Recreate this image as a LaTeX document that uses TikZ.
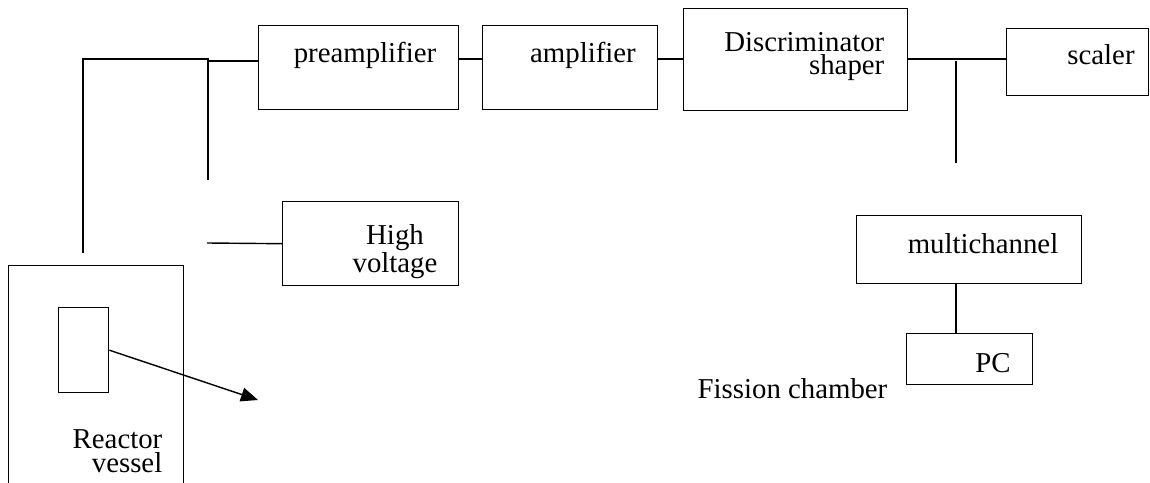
\documentclass[tikz,border=0pt]{standalone}
\usepackage{fontspec}
\setmainfont{Liberation Serif}
\usetikzlibrary{arrows.meta,positioning}

\begin{document}
\begin{tikzpicture}[x=0.02cm,y=-0.02cm,line width=0.8pt,
  every node/.style={font=\fontsize{16.4}{13.5}\selectfont}]
  \tikzstyle{block}=[draw,anchor=north west,inner sep=0pt]
  \tikzstyle{txt}=[anchor=base,inner sep=0pt]
  \useasboundingbox (0,0) rectangle (1150,483);

  % boxes
  \node[block,minimum width=4cm,minimum height=1.68cm]    (pre)     at (258,25)  {};
  \node[block,minimum width=3.5cm,minimum height=1.68cm]  (amp)     at (482,25)  {};
  \node[block,minimum width=4.48cm,minimum height=2.04cm] (disc)    at (683,8)   {};
  \node[block,minimum width=2.84cm,minimum height=1.34cm] (scaler)  at (1006,28) {};
  \node[block,minimum width=3.52cm,minimum height=1.68cm] (hv)      at (282,201) {};
  \node[block,minimum width=4.5cm,minimum height=1.36cm]  (multi)   at (856,215) {};
  \node[block,minimum width=2.52cm,minimum height=1.02cm] (pc)      at (906,333) {};
  \node[block,minimum width=3.5cm,minimum height=4.9cm]   (reactor) at (8,265)   {};
  \node[block,minimum width=1cm,minimum height=1.7cm]     (chamber) at (58,307)  {};

  % texts (multi-line ones sit on their last line)
  \node[txt] (pre-t)    at (365,63)  {preamplifier};
  \node[txt] (amp-t)    at (583,63)  {amplifier};
  \node[txt,anchor=base east,align=right] (disc-t) at (885,75) {Discriminator\\shaper};
  \node[txt] (scaler-t) at (1101,65) {scaler};
  \node[txt,align=center] (hv-t) at (395,272) {High\\voltage};
  \node[txt] (multi-t)  at (983,253) {multichannel};
  \node[txt] (pc-t)     at (993,372) {PC};
  \node[txt,anchor=base east] (fc-t) at (888,398) {Fission chamber};
  \node[txt,anchor=base east,align=right] (rv-t) at (163,472) {Reactor\\vessel};

  % free ends
  \coordinate (bus)   at (0,59);
  \coordinate (lead)  at (83,253);
  \coordinate (split) at (208,59);
  \coordinate (hvend) at (208,180);
  \coordinate (hvin)  at (207,243);
  \coordinate (tap)   at (956,163);
  \coordinate (tip)   at (258,400);

  % connectors
  \draw (lead) -- (lead |- bus) -- (split) -- (hvend);
  \draw (split |- 0,61) -- (pre.west |- 0,61);
  \draw (pre.east |- bus) -- (amp.west |- bus);
  \draw (amp.east |- bus) -- (disc.west |- bus);
  \draw (disc.east |- bus) -- (scaler.west |- bus);
  \draw (tap |- 0,61) -- (tap);
  \draw (hvin) -- (hv.west);
  \draw (multi.south -| tap) -- (pc.north -| tap);
  \draw[-{Triangle[length=0.34cm,width=0.28cm]}] (chamber.east) -- (tip);
\end{tikzpicture}
\end{document}
